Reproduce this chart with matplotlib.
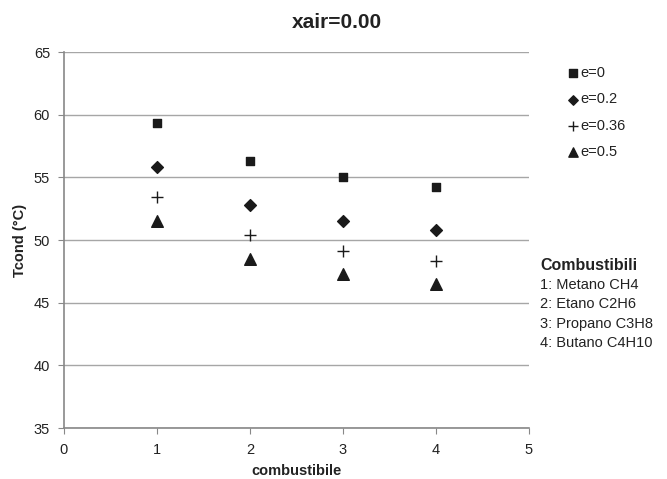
import matplotlib
matplotlib.use("Agg")
import matplotlib.pyplot as plt

plt.rcParams['font.family'] = ['Liberation Sans', 'DejaVu Sans']

x = [1, 2, 3, 4]
e0 = [59.3, 56.3, 55.0, 54.2]
e02 = [55.8, 52.8, 51.5, 50.8]
e036 = [53.4, 50.4, 49.1, 48.3]
e05 = [51.5, 48.5, 47.3, 46.5]
labels = ["e=0", "e=0.2", "e=0.36", "e=0.5"]
fuels = ["1: Metano CH4", "2: Etano C2H6", "3: Propano C3H8", "4: Butano C4H10"]

W, H = 667, 479
fig = plt.figure(figsize=(W / 100, H / 100), dpi=100)
ax = fig.add_axes([64 / W, 1 - 428 / H, 465 / W, 376 / H])

ax.scatter(x, e0, marker='s', s=40, color='#1a1a1a', label=labels[0], zorder=3)
ax.scatter(x, e02, marker='D', s=36, color='#1a1a1a', label=labels[1], zorder=3)
ax.scatter(x, e036, marker='+', s=80, color='#1a1a1a', linewidths=1, label=labels[2], zorder=3)
ax.scatter(x, e05, marker='^', s=70, color='#1a1a1a', label=labels[3], zorder=3)

ax.set_xlim(0, 5)
ax.set_ylim(35, 65)
ax.set_xticks(range(0, 6))
ax.set_yticks(range(35, 66, 5))
ax.yaxis.grid(True, color='#a6a6a6', linewidth=1)
ax.set_axisbelow(True)
for s in ['top', 'right']:
    ax.spines[s].set_visible(False)
for s in ['left', 'bottom']:
    ax.spines[s].set_color('#888888')
    ax.spines[s].set_linewidth(1.2)
ax.tick_params(axis='both', colors='#888888', labelcolor='#222222', labelsize=10.5, length=4)
ax.tick_params(axis='x', pad=7)
ax.tick_params(axis='y', pad=6)

fig.text(0.505, 1 - 23 / H, "xair=0.00", fontsize=15, fontweight='bold',
         ha='center', va='center', color='#222222')
ax.set_xlabel("combustibile", fontsize=10.5, fontweight='bold', labelpad=5, color='#222222')
ax.set_ylabel("Tcond (°C)", fontsize=10.5, fontweight='bold', labelpad=5, color='#222222')

fig.legend(loc='upper left', bbox_to_anchor=(566 / W, 1 - 66 / H), frameon=False,
           fontsize=10.5, handletextpad=0.0, labelspacing=0.85, handlelength=1.0,
           borderpad=0, borderaxespad=0, markerscale=0.8, labelcolor='#222222')

fig.text(540 / W, 1 - 265 / H, "Combustibili", fontsize=11.5, fontweight='bold',
         color='#222222', va='center')
for i, f in enumerate(fuels):
    fig.text(540 / W, 1 - (285 + i * 19.3) / H, f, fontsize=10.5, color='#222222', va='center')

fig.savefig("out.png", dpi=100)
